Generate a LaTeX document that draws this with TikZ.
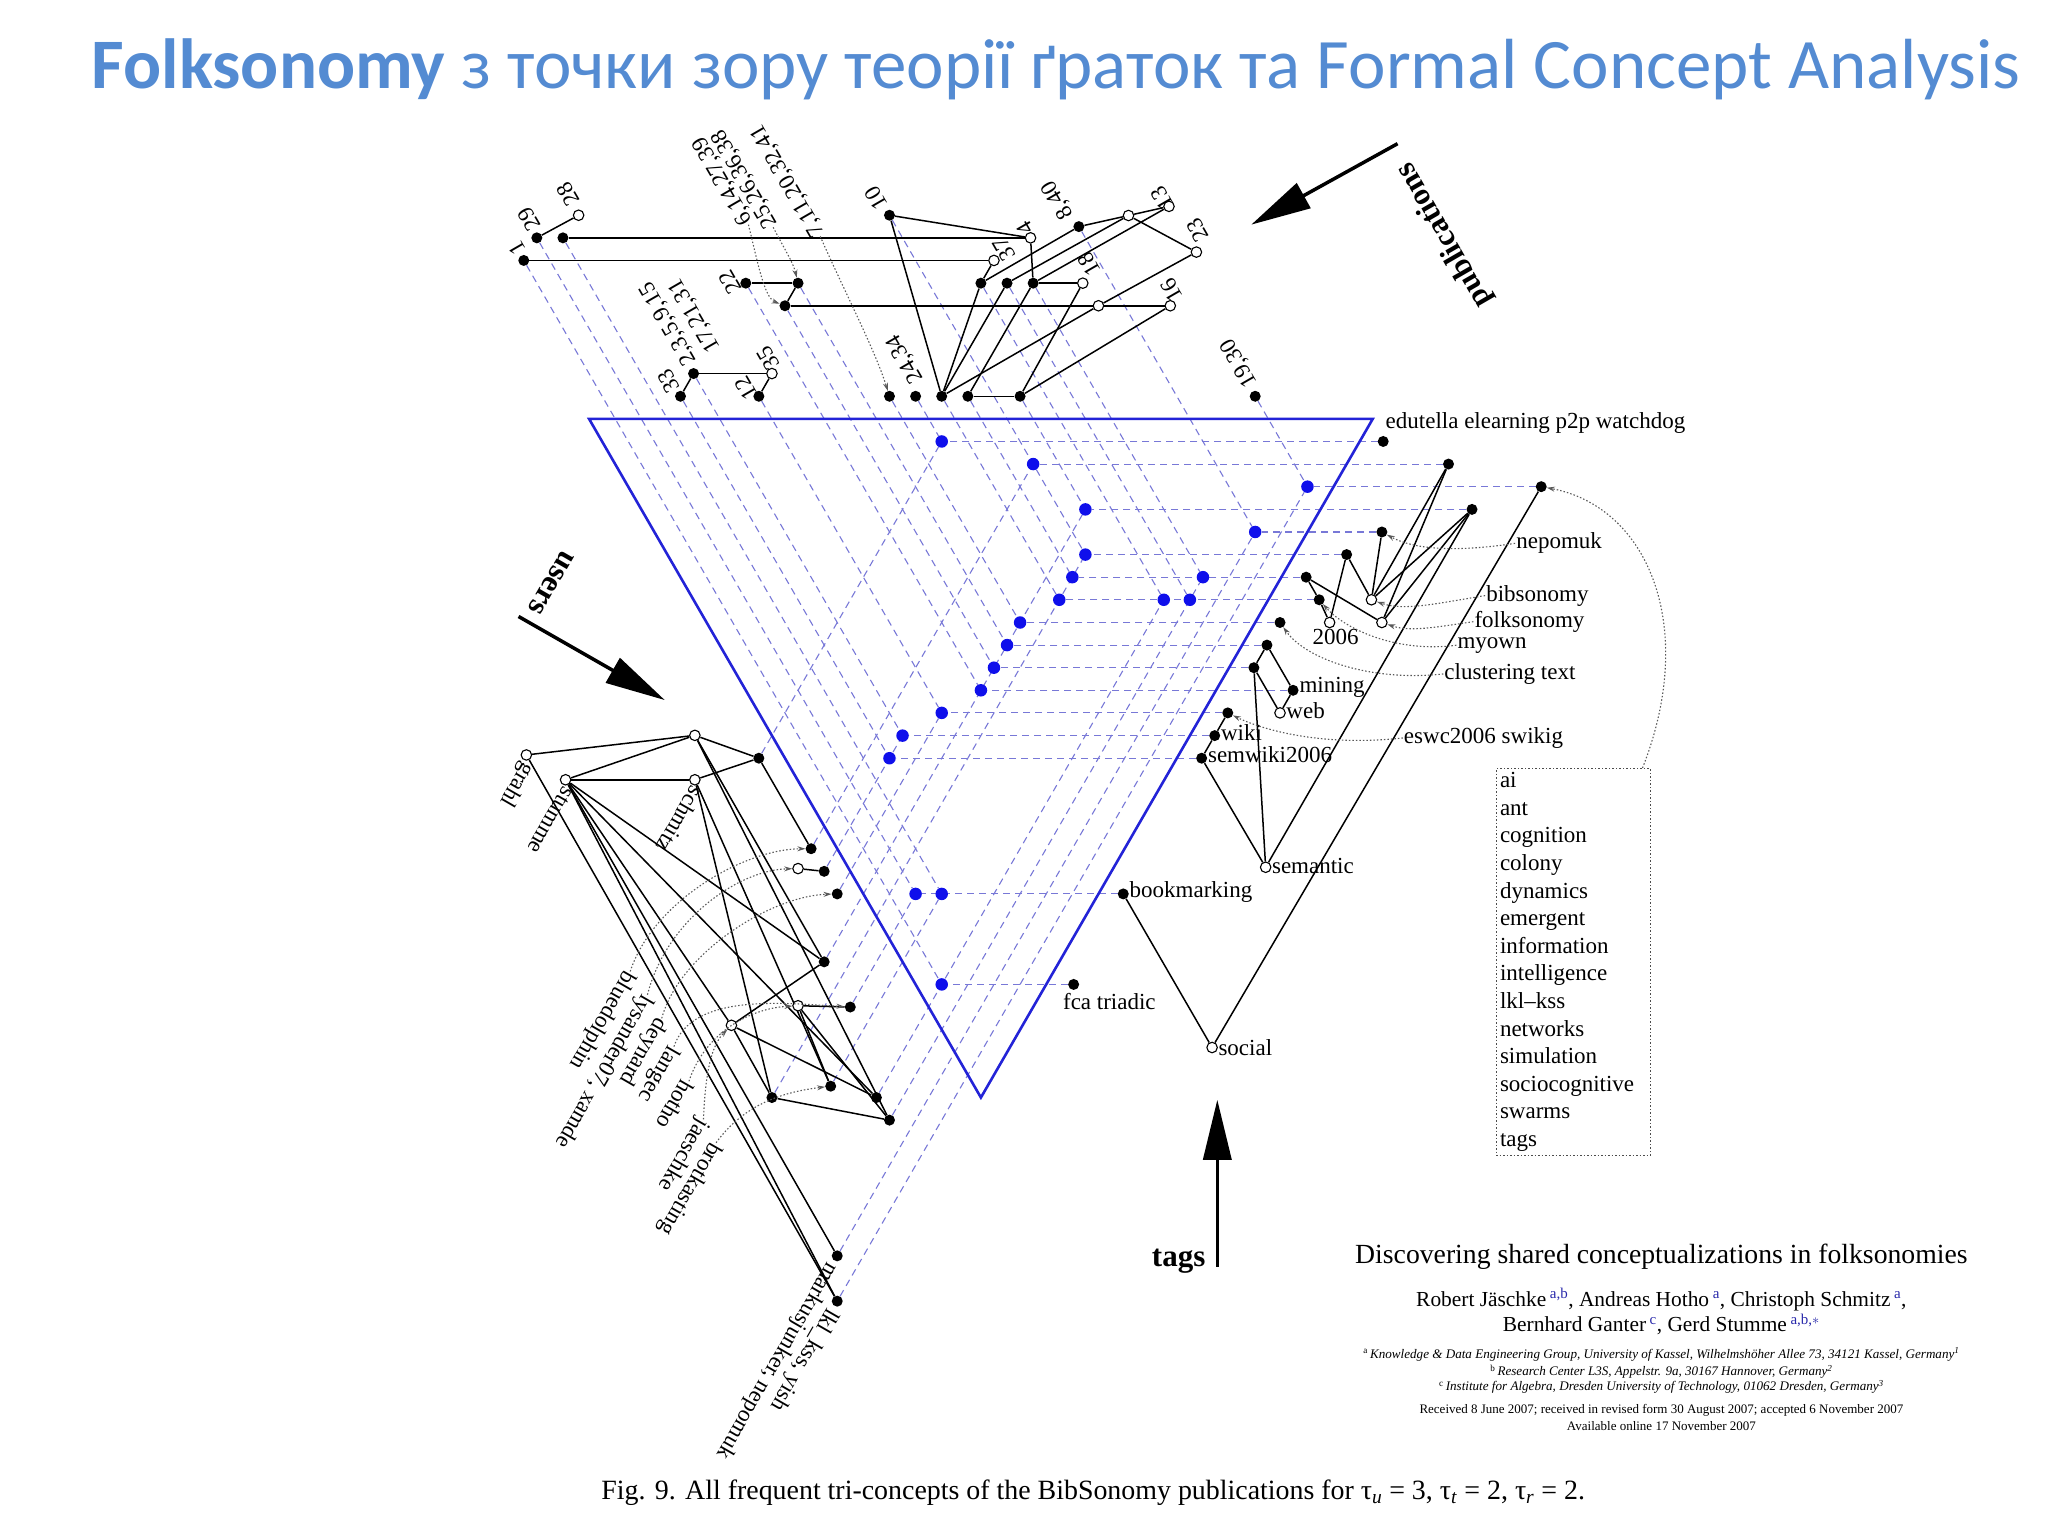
\documentclass[tikz,border=0pt]{standalone}
\usepackage{fontspec}
\setmainfont{Liberation Serif}
\newfontfamily\titlefont{Carlito}
\usetikzlibrary{arrows.meta}
\pgfdeclarelayer{bg}
\pgfsetlayers{bg,main}
\definecolor{titleblue}{RGB}{84,139,210}
\definecolor{dashcol}{RGB}{120,120,215}
\definecolor{dotblue}{RGB}{15,15,235}
\definecolor{triblue}{RGB}{35,35,215}
\definecolor{supblue}{RGB}{40,40,170}
\tikzset{
 fnode/.style={circle, fill=black, inner sep=0pt, minimum size=11pt},
 onode/.style={circle, draw=black, fill=white, line width=1.1pt, inner sep=0pt, minimum size=10.5pt},
 bdot/.style={circle, fill=dotblue, inner sep=0pt, minimum size=12.5pt},
 ln/.style={line width=1.5pt, draw=black},
 dl/.style={draw=dashcol, line width=1.1pt, dash pattern=on 7pt off 5pt},
 lead/.style={draw=black!65, line width=1.1pt, dash pattern=on 1.5pt off 2pt, -{Stealth[length=8pt,width=5pt]}},
 lbl/.style={font=\fontsize{23}{25}\selectfont, inner sep=1pt},
 axarrow/.style={line width=3.5pt, -{Triangle[length=60pt,width=28pt]}},
 axl/.style={font=\bfseries\fontsize{31}{33}\selectfont, inner sep=0pt},
}
\begin{document}
\begin{tikzpicture}[x=1.3061pt, y=-1.3061pt]
\useasboundingbox (0,0) rectangle (1568,1176);
% title
\node[anchor=base west, text=titleblue, inner sep=0pt, font=\titlefont\fontsize{71}{78}\selectfont] (title) at (70,68) {\textbf{Folksonomy} з точки зору теорії ґраток та Formal Concept Analysis};
% triangle corners
\coordinate (triA) at (451,320.7); \coordinate (triB) at (1051,320.7); \coordinate (triC) at (751,840.3);
% blue dots
\foreach \n/\x/\y in {b1/721/338, b2/791/355.3, b3/1001/372.6, b4/831/390, b5/961/407.3, b6/831/424.6, b7/821/441.9, b8/921/441.9, b9/811/459.2, b10/891/459.2, b11/911/459.2, b12/781/476.6, b13/771/493.9, b14/761/511.2, b15/751/528.5, b16/721/545.8, b17/691/563.2, b18/681/580.5, b19/701/684.4, b20/721/684.4, b21/721/753.7}
  \node[bdot] (\n) at (\x,\y) {};
% publication nodes
\foreach \n/\x/\y in {p1/401/199.4, p2/411/182.1, p3/431/182.1, p33/521/303.4, p4/531/286, p12/581/303.4, p22/571/216.8, p5/601/234.1, p6/611/216.8, p7/681/303.4, p8/701/303.4, p9/721/303.4, p10/741/303.4, p11/681/164.8, p13/781/303.4, p14/751/216.8, p15/771/216.8, p16/791/216.8, p17/826/173.5, p18/961/303.4}
  \node[fnode] (\n) at (\x,\y) {};
\foreach \n/\x/\y in {q28/443/164.8, q35/591/286, q4/789/182.1, q37/761/199.4, q18/829/216.8, qa/841/234.1, q16/896/234.1, qb/864/165, q13/895/158, q23/916/193}
  \node[onode] (\n) at (\x,\y) {};
% tag nodes
\foreach \n/\x/\y in {t1/1059/338, t2/1109/355.3, t3/1180/372.6, t4/1127/390, t5/1058/407.3, t6/1031/424.6, t7/1000/441.9, t8/1010/459.2, t9/980/476.6, t10/970/493.9, t11/960/511.2, t12/990/528.5, t13/940/545.8, t14/930/563.2, t15/920/580.5, tbk/860/684.4, tfc/822/753.7}
  \node[fnode] (\n) at (\x,\y) {};
\foreach \n/\x/\y in {r1/1050/459.2, r2/1058/476.6, r3/1018/476.6, rw/980/545.8, rs/969/664, rso/928/802}
  \node[onode] (\n) at (\x,\y) {};
% user nodes
\foreach \n/\x/\y in {u1/581/580.5, u2/621/649.8, u3/631/667.1, u4/641/684.4, u5/631/736.4, u6/651/771, u7/591/840.3, u8/636/831.6, u9/671/840.3, u10/681/857.6, u11/641/961.5, u12/641/996.2}
  \node[fnode] (\n) at (\x,\y) {};
\foreach \n/\x/\y in {ug/403/578, us/433/597, ut/532/563, uc/532/597, uo1/611/665, uo2/611/770, uo3/560/785}
  \node[onode] (\n) at (\x,\y) {};

\begin{pgfonlayer}{bg}
% dashed lines: publications
\foreach \a/\b in {p1/b21, p2/b19, p3/b20, p33/b18, p4/b17, p12/b16, p22/b15, p5/b14, p6/b13, p7/b12, p8/b1, p9/b9, p10/b7, p11/b6, p13/b4, p14/b10, p15/b11, p16/b8, p17/b5, p18/b3}
  \draw[dl] (\a) -- (\b);
% dashed lines: tags
\foreach \a/\b in {t1/b1, t2/b2, t3/b3, t4/b4, t5/b5, t6/b6, t7/b7, t8/b9, t9/b12, t10/b13, t11/b14, t12/b15, t13/b16, t14/b17, t15/b18, tbk/b19, tfc/b21}
  \draw[dl] (\a) -- (\b);
% dashed lines: users
\foreach \a/\b in {u1/b1, u2/b2, u3/b17, u4/b16, u5/b4, u7/b6, u6/b19, u8/b20, u9/b10, u10/b8, u11/b5, u12/b3}
  \draw[dl] (\a) -- (\b);
\draw[triblue, line width=2.6pt, line join=miter] (triA) -- (triB) -- (triC) -- cycle;
% publication lattice
\foreach \a/\b in {p1/q37, p3/q4, p2/q28, p22/p6, p6/p5, p5/qa, qa/q16, p33/p4, p4/q35, q35/p12, p11/q4, p11/p9, p9/p14, p9/p15, p9/qa, p10/p16, p10/p13, p13/q18, p13/q16, p14/q37, p14/p17, p15/qb, p16/q13, p16/q4, p16/q18, p17/qb, qb/q13, qb/q23, qa/q23}
  \draw[ln] (\a) -- (\b);
% tag lattice
\foreach \a/\b in {t2/r1, t2/r2, t4/r1, t4/r2, t5/r1, t6/r1, t6/r3, t7/r2, t7/t8, t8/r3, t3/rso, t4/rs, t11/rs, t15/rs, t10/t11, t10/t12, t11/rw, t12/rw, t13/t14, t14/t15, tbk/rso}
  \draw[ln] (\a) -- (\b);
% user lattice
\foreach \a/\b in {ug/ut, us/ut, us/uc, ut/u1, uc/u1, u1/u2, ut/u5, ut/u10, uc/u7, uc/u8, us/u5, us/uo3, us/u9, us/u11, us/u12, ug/u12, uo3/u5, uo3/u7, uo3/u9, uo2/u6, uo2/u8, uo2/u10, u7/u10, uo1/u3}
  \draw[ln] (\a) -- (\b);
\end{pgfonlayer}

% publication labels
\foreach \n/\x/\y/\t in {lp1/396/190/1, lp2/405/168/29, lq28/435/149/28, lp22/559/216/22, lp33/512/292/33, lp12/571/297/12, lq35/588/274/35, lp11/671/152/10, lq13/890/152/13, lq23/917/176/23, lq16/897/222/16, lq18/834/202/18, lq4/785/175/4, lq37/769/191/37}
  \node[lbl, rotate=120] (\n) at (\x,\y) {\t};
\node[lbl, rotate=120] (lp17) at (810,153) {8,40};
\node[lbl, rotate=120] (lp8) at (693,275) {24,34};
\node[lbl, rotate=120] (lp18) at (949,278) {19,30};
\node[lbl, rotate=120, anchor=west] (lp4) at (530,279) {2,3,5,9,15};
\node[lbl, rotate=120, anchor=west] (lp4b) at (548,269) {17,21,31};
\node[lbl, rotate=120, anchor=west] (lp5) at (573,172) {6,14,27,39};
\node[lbl, rotate=120, anchor=west] (lp6) at (592,174) {25,26,36,38};
\node[lbl, rotate=120, anchor=west] (lp7) at (628,181) {7,11,20,32,41};
\draw[lead] (lp5.west) .. controls (580,200) and (585,228) .. (p5);
\draw[lead] (lp6.west) .. controls (600,190) and (607,200) .. (p6);
\draw[lead] (lp7.west) .. controls (645,220) and (670,268) .. (p7);

% tag labels
\node[lbl, anchor=west] (lt1) at (1060,324) {edutella elearning p2p watchdog};
\node[lbl, anchor=west] (lnep) at (1160,416) {nepomuk};
\node[lbl, anchor=west] (lbib) at (1137,456) {bibsonomy};
\node[lbl, anchor=west] (lfolk) at (1128,476) {folksonomy};
\node[lbl, anchor=west] (lmy) at (1115,494) {myown};
\node[lbl, anchor=west] (lclu) at (1105,516) {clustering text};
\node[lbl, anchor=west] (l2006) at (1004,488) {2006};
\node[lbl, anchor=west] (lmin) at (994,526) {mining};
\node[lbl, anchor=west] (lweb) at (984,544) {web};
\node[lbl, anchor=west] (lwiki) at (934,561) {wiki};
\node[lbl, anchor=west] (lsemw) at (924,578) {semwiki2006};
\node[lbl, anchor=west] (lesw) at (1074,565) {eswc2006 swikig};
\node[lbl, anchor=west] (lsem) at (973,663) {semantic};
\node[lbl, anchor=west] (lbook) at (864,683) {bookmarking};
\node[lbl, anchor=west] (lfca) at (813,767) {fca triadic};
\node[lbl, anchor=west] (lsoc) at (932,802) {social};
\draw[lead] (lnep.west) .. controls (1120,422) and (1085,422) .. (t5);
\draw[lead] (lbib.west) .. controls (1100,462) and (1075,468) .. (r1);
\draw[lead] (lfolk.west) .. controls (1100,480) and (1080,484) .. (r2);
\draw[lead] (lmy.west) .. controls (1070,500) and (1030,482) .. (t8);
\draw[lead] (lclu.west) .. controls (1050,522) and (1000,505) .. (t9);
\draw[lead] (lesw.west) .. controls (1010,572) and (965,558) .. (t13);

% tag list box
\node[lbl, anchor=north west, align=left, draw=black!70, dash pattern=on 1.5pt off 2pt, line width=1pt, inner xsep=4pt, inner ysep=4pt, text width=146pt, font=\fontsize{23}{27.6}\selectfont] (box) at (1145,588) {ai\\ant\\cognition\\colony\\dynamics\\emergent\\information\\intelligence\\lkl--kss\\networks\\simulation\\sociocognitive\\swarms\\tags};
\coordinate (boxc) at ([xshift=-8pt]box.north east);
\draw[lead] (boxc) .. controls (1300,480) and (1262,388) .. (t3);

% user labels
\node[lbl, rotate=240, anchor=west] (lug) at (405,584) {grahl};
\node[lbl, rotate=240, anchor=west] (lus) at (436,603) {stumme};
\node[lbl, rotate=240, anchor=west] (luc) at (535,603) {schmitz};
\foreach \n/\x/\y/\t in {lbd/461/781/bluedolphin, ldey/492/805/deynard, llan/504/822/langec, lhot/517/846/hotho, ljae/523/884/jaeschke, lbro/528/910/brotkasting}
  \node[lbl, rotate=240] (\n) at (\x,\y) {\t};
\node[lbl, rotate=240] (lly) at (462,820) {lysander07, xamde};
\node[lbl, rotate=240, anchor=west] (lmj) at (638,967) {markusjunker, nepomuk};
\node[lbl, rotate=240, anchor=west] (lkl) at (638,1002) {lkl\_kss, yish};
\draw[lead] (lbd.west) .. controls (500,690) and (570,650) .. (u2);
\draw[lead] (lly.west) .. controls (510,705) and (565,666) .. (uo1);
\draw[lead] (ldey.west) .. controls (520,730) and (590,686) .. (u4);
\draw[lead] (llan.west) .. controls (530,760) and (600,768) .. (u6);
\draw[lead] (lhot.west) .. controls (540,790) and (575,772) .. (uo2);
\draw[lead] (ljae.west) .. controls (540,820) and (545,800) .. (uo3);
\draw[lead] (lbro.west) .. controls (570,845) and (600,836) .. (u8);

% axis arrows
\coordinate (pa1) at (1070,110); \coordinate (pa2) at (958,172);
\draw[axarrow] (pa1) -- (pa2);
\node[axl, rotate=120] (lpub) at (1106,180) {publications};
\coordinate (ua1) at (397,472); \coordinate (ua2) at (509,536);
\draw[axarrow] (ua1) -- (ua2);
\node[axl, rotate=240] (luser) at (422,446) {users};
\coordinate (ga1) at (932,970); \coordinate (ga2) at (932,842);
\draw[axarrow] (ga1) -- (ga2);
\node[axl, anchor=base east] (ltag) at (923,970) {tags};

% paper header
\node[font=\fontsize{27.7}{30}\selectfont, inner sep=0pt] (ptitle) at (1272,962) {Discovering shared conceptualizations in folksonomies};
\node[font=\fontsize{21.4}{24}\selectfont, inner sep=0pt] (auth1) at (1272,995) {Robert Jäschke\,\textsuperscript{\color{supblue}a,b}, Andreas Hotho\,\textsuperscript{\color{supblue}a}, Christoph Schmitz\,\textsuperscript{\color{supblue}a},};
\node[font=\fontsize{21.4}{24}\selectfont, inner sep=0pt] (auth2) at (1272,1014) {Bernhard Ganter\,\textsuperscript{\color{supblue}c}, Gerd Stumme\,\textsuperscript{\color{supblue}a,b,$*$}};
\node[font=\itshape\fontsize{13.1}{14}\selectfont, inner sep=0pt] (af1) at (1272,1037) {\textsuperscript{\upshape a}\,Knowledge \& Data Engineering Group, University of Kassel, Wilhelmshöher Allee 73, 34121 Kassel, Germany\textsuperscript{1}};
\node[font=\itshape\fontsize{13.1}{14}\selectfont, inner sep=0pt] (af2) at (1272,1050) {\textsuperscript{\upshape b}\,Research Center L3S, Appelstr. 9a, 30167 Hannover, Germany\textsuperscript{2}};
\node[font=\itshape\fontsize{13.1}{14}\selectfont, inner sep=0pt] (af3) at (1272,1062) {\textsuperscript{\upshape c}\,Institute for Algebra, Dresden University of Technology, 01062 Dresden, Germany\textsuperscript{3}};
\node[font=\fontsize{13}{15}\selectfont, inner sep=0pt] (rec) at (1272,1080) {Received 8 June 2007; received in revised form 30 August 2007; accepted 6 November 2007};
\node[font=\fontsize{13}{15}\selectfont, inner sep=0pt] (avail) at (1272,1092) {Available online 17 November 2007};
% caption
\node[font=\fontsize{27.9}{30}\selectfont, inner sep=0pt] (cap) at (837,1143) {Fig. 9. All frequent tri-concepts of the BibSonomy publications for τ\textsubscript{\textit{u}} = 3, τ\textsubscript{\textit{t}} = 2, τ\textsubscript{\textit{r}} = 2.};
\end{tikzpicture}
\end{document}
